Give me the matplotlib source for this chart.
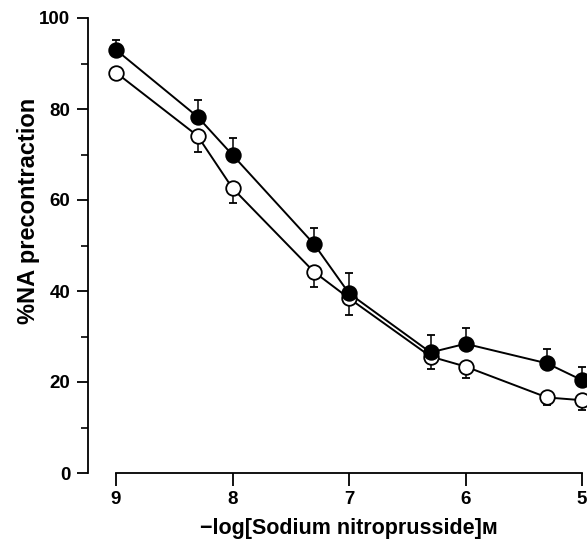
import numpy as np
import matplotlib.pyplot as plt
from matplotlib.ticker import MultipleLocator

plt.rcParams['font.family'] = ['Liberation Sans', 'DejaVu Sans']

conc = [9, 8.3, 8, 7.3, 7, 6.3, 6, 5.3, 5]
filled = [93.0, 78.3, 69.9, 50.3, 39.5, 26.5, 28.4, 24.1, 20.4]
filled_sem = [2.2, 3.7, 3.7, 3.5, 4.4, 3.8, 3.4, 3.2, 2.8]
opened = [88.0, 74.1, 62.6, 44.2, 38.4, 25.6, 23.4, 16.6, 16.0]
opened_sem = [0.0, 3.5, 3.3, 3.3, 3.7, 2.8, 2.6, 1.7, 2.2]

fig = plt.figure(figsize=(5.87, 5.4), dpi=100)
ax = fig.add_axes([116/587, 67/540, 466/587, 455/540])

ax.errorbar(conc, opened, yerr=[opened_sem, np.zeros(len(conc))], fmt='o-',
            color='black', mfc='white', mec='black', ms=10.5, mew=1.3, lw=1.4,
            elinewidth=1.1, capsize=3, capthick=1.1, clip_on=False, zorder=3)
ax.errorbar(conc, filled, yerr=[np.zeros(len(conc)), filled_sem], fmt='o-',
            color='black', mfc='black', mec='black', ms=10.5, mew=1.3, lw=1.4,
            elinewidth=1.1, capsize=3, capthick=1.1, clip_on=False, zorder=4)

ax.set_xlim(9, 5)
ax.set_ylim(0, 100)
ax.set_xticks([9, 8, 7, 6, 5])
ax.yaxis.set_major_locator(MultipleLocator(20))
ax.yaxis.set_minor_locator(MultipleLocator(10))

for s in ['top', 'right']:
    ax.spines[s].set_visible(False)
ax.spines['left'].set_position(('outward', 20))
ax.spines['left'].set_linewidth(1.3)
ax.spines['bottom'].set_linewidth(1.3)

ax.tick_params(axis='y', which='major', length=8, width=1.3, labelsize=13.5, pad=5)
ax.tick_params(axis='y', which='minor', length=5, width=1.2)
ax.tick_params(axis='x', which='major', length=9, width=1.3, labelsize=13.5, pad=4)
for lab in ax.get_xticklabels() + ax.get_yticklabels():
    lab.set_fontweight('bold')

ax.set_ylabel('%NA precontraction', fontsize=17, fontweight='bold')
ax.yaxis.set_label_coords(-0.163, 0.575)
ax.set_xlabel('\u2212log[Sodium nitroprusside]\u1d0d', fontsize=15.5,
              fontweight='bold', labelpad=7)

fig.savefig('out.png', dpi=100)
